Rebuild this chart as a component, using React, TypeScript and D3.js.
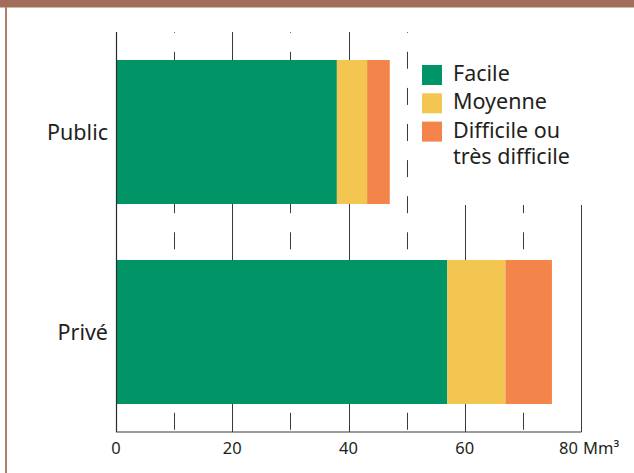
import React from "react";
import * as d3 from "d3";

const categories = ["Public", "Privé"];
const facile = [38, 57];
const moyenne = [5.2, 10];
const difficile = [3.9, 8];
const seriesKeys = ["facile", "moyenne", "difficile"];
const seriesLabels = [["Facile"], ["Moyenne"], ["Difficile ou", "très difficile"]];
const seriesColors = ["#009467", "#F2C650", "#F4854A"];
const majorTicks = [0, 20, 40, 60, 80];
const minorTicks = [10, 30, 50, 70];
const unitLabel = "Mm³";

const W = 634;
const H = 473;
const TOP = 32;
const BOTTOM = 432;
const FONT = "'Noto Sans', 'Open Sans', sans-serif";
const TXT = "#231F20";

export default function App() {
  const x = d3.scaleLinear().domain([0, 80]).range([116, 581]);
  const y = d3
    .scaleBand<string>()
    .domain(categories)
    .range([TOP, BOTTOM])
    .paddingInner(0.28)
    .paddingOuter(0.14);

  const rows = categories.map((c, i) => ({
    cat: c,
    facile: facile[i],
    moyenne: moyenne[i],
    difficile: difficile[i],
  }));
  const stacked = d3.stack<any>().keys(seriesKeys)(rows);

  const crisp = (v: number) => Math.round(v) + 0.5;
  const legendBoxX = 412;
  const legendBoxBottom = 205;

  let legendY = 65;
  const legendItems = seriesLabels.map((lines, i) => {
    const yy = legendY;
    legendY += 28.3;
    return { lines, yy, color: seriesColors[i] };
  });

  return (
    <svg
      width={W}
      height={H}
      style={{ position: "absolute", left: 0, top: 0, display: "block", background: "#fff" }}
      fontFamily={FONT}
    >
      <rect x={0} y={0} width={W} height={H} fill="#ffffff" />
      <rect x={0} y={0} width={W} height={7.5} fill="#A26E5C" />
      <rect x={5} y={7} width={2} height={H - 7} fill="#B07E6C" />

      {majorTicks.map((t) => (
        <line
          key={"M" + t}
          x1={crisp(x(t))}
          x2={crisp(x(t))}
          y1={TOP}
          y2={BOTTOM}
          stroke="#3a3a3a"
          strokeWidth={1}
        />
      ))}
      {minorTicks.map((t) => (
        <line
          key={"m" + t}
          x1={crisp(x(t))}
          x2={crisp(x(t))}
          y1={TOP}
          y2={BOTTOM}
          stroke="#3a3a3a"
          strokeWidth={1}
          strokeDasharray="17 19.1"
          strokeDashoffset={16.3}
        />
      ))}

      <rect x={legendBoxX} y={8} width={W - legendBoxX} height={legendBoxBottom - 8} fill="#ffffff" />

      {stacked.map((s, si) =>
        s.map((d: any, i: number) => (
          <rect
            key={si + "-" + i}
            x={x(d[0])}
            y={y(categories[i])}
            width={x(d[1]) - x(d[0])}
            height={y.bandwidth()}
            fill={seriesColors[si]}
          />
        ))
      )}

      <line x1={crisp(x(0))} x2={crisp(x(0))} y1={TOP} y2={BOTTOM} stroke="#2a2a2a" strokeWidth={1.2} />
      <line x1={x(0)} x2={x(80) + 0.5} y1={BOTTOM} y2={BOTTOM} stroke="#3a3a3a" strokeWidth={1.2} />

      {categories.map((c) => (
        <text
          key={c}
          x={108}
          y={(y(c) as number) + y.bandwidth() / 2}
          dy="0.36em"
          textAnchor="end"
          fontSize={21.5}
          fill={TXT}
        >
          {c}
        </text>
      ))}

      {majorTicks.map((t, i) =>
        i === majorTicks.length - 1 ? (
          <text key={"t" + t} x={x(t) - 3} y={454} textAnchor="end" fontSize={16.5} fill={TXT}>
            {t}
          </text>
        ) : (
          <text key={"t" + t} x={x(t)} y={454} textAnchor="middle" fontSize={16.5} fill={TXT}>
            {t}
          </text>
        )
      )}
      <text x={x(80) + 2} y={454} textAnchor="start" fontSize={16.5} fill={TXT}>
        {unitLabel}
      </text>

      {legendItems.map((it, i) => (
        <g key={"l" + i}>
          <rect x={422} y={it.yy} width={20} height={20} fill={it.color} />
          {it.lines.map((ln, li) => (
            <text key={li} x={453} y={it.yy + 16 + li * 26.3} fontSize={21.5} fill={TXT}>
              {ln}
            </text>
          ))}
        </g>
      ))}
    </svg>
  );
}
